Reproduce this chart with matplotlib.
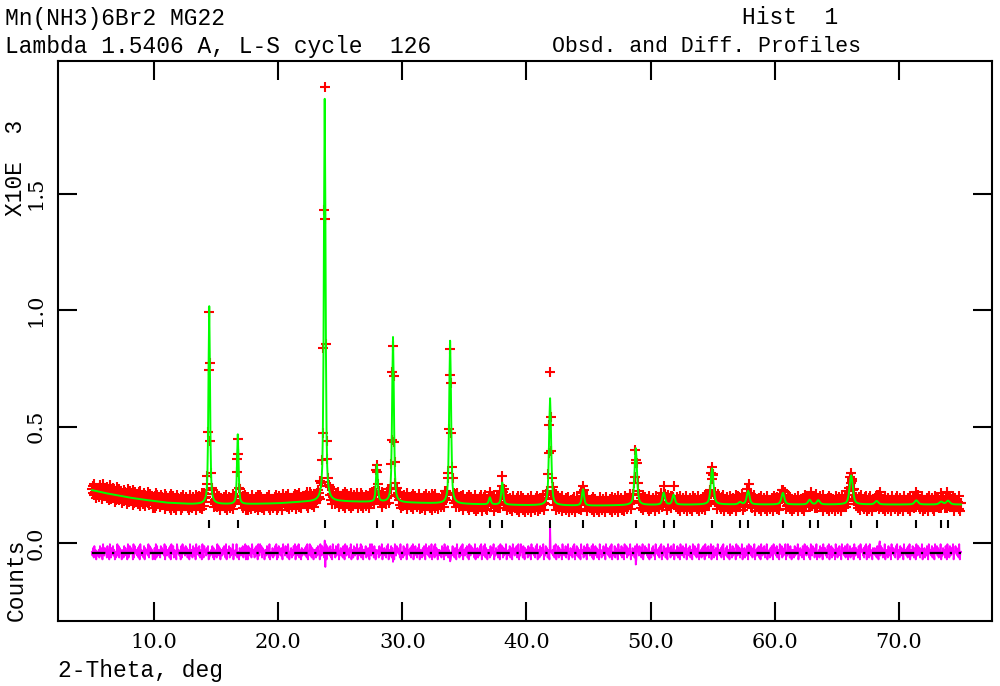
import numpy as np
import matplotlib
matplotlib.use("Agg")
import matplotlib.pyplot as plt

# ---------------- text ----------------
title_left = ["Mn(NH3)6Br2 MG22", "Lambda 1.5406 A, L-S cycle  126"]
title_right = ["Hist  1", "Obsd. and Diff. Profiles"]
x_label = "2-Theta, deg"
y_label_top = "X10E  3"
y_label_bottom = "Counts"
x_ticks = [10, 20, 30, 40, 50, 60, 70]
x_tick_labels = ["10.0", "20.0", "30.0", "40.0", "50.0", "60.0", "70.0"]
y_ticks = [0.0, 0.5, 1.0, 1.5]
y_tick_labels = ["0.0", "0.5", "1.0", "1.5"]

# ---------------- data (counts in units of 1000) ----------------
start_2theta = 5.0
step_2theta = 0.05

# background level read along the pattern
bg_2theta = [5, 6, 7, 8, 9, 10, 11, 13, 17, 20, 22, 25, 28, 31, 34, 37, 40, 45, 50, 55, 75]
bg_counts = [0.227, 0.215, 0.205, 0.195, 0.187, 0.180, 0.173, 0.167, 0.166, 0.170, 0.176,
             0.178, 0.175, 0.172, 0.168, 0.165, 0.162, 0.160, 0.163, 0.165, 0.165]

# peaks read from the calculated (green) profile: position, net height, width
peak_pos = [14.45, 16.75, 23.75, 27.95, 29.25, 33.85, 37.05, 38.05, 41.90, 44.55, 48.80,
            51.05, 51.85, 54.95, 57.20, 57.85, 60.65, 62.80, 63.50, 66.15, 68.20, 71.40,
            73.40, 73.95]
peak_height = [0.85, 0.30, 1.73, 0.16, 0.71, 0.70, 0.03, 0.095, 0.46, 0.07, 0.245,
               0.052, 0.043, 0.155, 0.01, 0.058, 0.05, 0.02, 0.018, 0.125, 0.015, 0.018,
               0.012, 0.016]
peak_fwhm = [0.15, 0.15, 0.16, 0.17, 0.17, 0.18, 0.19, 0.19, 0.20, 0.21, 0.23,
             0.24, 0.24, 0.26, 0.27, 0.27, 0.28, 0.29, 0.29, 0.31, 0.32, 0.33,
             0.34, 0.34]
peak_eta = 0.6

# reflection positions (tick marks)
reflections = [14.45, 16.75, 23.75, 27.95, 29.25, 33.85, 37.05, 38.05, 41.90, 44.55,
               48.80, 51.05, 51.85, 54.95, 57.20, 57.85, 60.65, 62.80, 63.50, 66.15,
               68.20, 71.40, 73.40, 73.95]

# observed - calculated scatter, one digit per step (0..9 -> -/+)
noise_digits = (
    "53728461534628357194375628461952748361524938275614"
    "62837451923847561928546372819463528174653928475613"
    "47192835642857463918536472819548263519746351829475"
    "38472651935628437195473825619428563748195364827153"
    "62948371563748529164582736491546392851743758264918"
    "51837462954627385196395827461563847291534726385917"
    "28463751956384729514572638491548392651735647382915"
    "49382751646273845196385726491854738261954628375914"
    "57362841953846275914628537491647392851645826374195"
    "39472851645628374915473628591463827451963857462915"
    "52837461954637285914385627491564273851945738264915"
    "48293751646352847195374826591458362741954627385916"
    "63748251943857462915572638491448392751646283745915"
    "37462851955827364914463827519653748269153956284174"
    "56283741954736285916628374591438572641955463827914"
    "48273651946358274915374628591458372641954628375196"
    "57364829153847265194625483719547362859145382746195"
    "46382751945827364915374628519663847259144857362915"
    "52748361954637285914385627419557283649144638275196"
    "63852749153748265194583627491546273851943758264915"
    "48263751945637284915473826519462837451963857264914"
    "57263841954836275914637482519537482659145627384195"
    "47382561945826374915394728516462837459144736285195"
    "53847261953857264914462837519657362849154827365194"
    "62738451954738265914582637419537462851965637284915"
    "48293651745736284195385726491564283751944736285916"
    "52837461954637285914638527419538472659145726384196"
    "46382751955837264914374628519562837459144857362915"
    "5"
)
noise_scale = 0.0082

# local misfits seen in the difference curve at strong peaks
misfit_pos = [14.45, 16.75, 23.75, 23.80, 29.25, 33.85, 41.90, 48.80, 68.45]
misfit_val = [-0.060, -0.048, 0.040, -0.057, -0.035, -0.074, 0.076, -0.055, 0.045]

diff_offset = -0.042
tick_bottom, tick_top = 0.064, 0.099

# ---------------- build profiles ----------------
n_pts = len(noise_digits)
tt = start_2theta + step_2theta * np.arange(n_pts)
bg = np.interp(tt, bg_2theta, bg_counts)
calc = bg.copy()
for p, h, w in zip(peak_pos, peak_height, peak_fwhm):
    hw = w / 2.0
    lor = 1.0 / (1.0 + ((tt - p) / hw) ** 2)
    gau = np.exp(-np.log(2) * ((tt - p) / hw) ** 2)
    calc += h * (peak_eta * lor + (1 - peak_eta) * gau)

noise = (np.array([int(c) for c in noise_digits]) - 4.5) * noise_scale
obs = calc + noise
for p, v in zip(misfit_pos, misfit_val):
    obs[np.argmin(np.abs(tt - p))] += v
diff = obs - calc

# ---------------- plot ----------------
fig = plt.figure(figsize=(10, 6.86), dpi=100)
ax = fig.add_axes([0.058, 0.0948, 0.934, 0.816])

tick_font = "DejaVu Serif"
text_font = "Liberation Mono"

ax.plot(tt, obs, linestyle="none", marker="+", color="#ff0000", ms=6.5, mew=1.5, zorder=2)
ax.plot(tt, calc, color="#00ff00", lw=1.4, zorder=3)
ax.vlines(reflections, tick_bottom, tick_top, color="black", lw=1.5, zorder=3)
ax.plot(tt, diff + diff_offset, color="#ff00ff", lw=1.3, zorder=2)
ax.plot([tt[0], tt[-1]], [diff_offset, diff_offset], color="black", lw=1.6,
        dashes=(6, 3, 1, 3), zorder=4)

ax.set_xlim(2.27, 77.49)
ax.set_ylim(-0.335, 2.069)
ax.set_xticks(x_ticks)
ax.set_xticklabels(x_tick_labels, fontfamily=tick_font, fontsize=15)
ax.set_yticks(y_ticks)
ax.set_yticklabels(y_tick_labels, fontfamily=tick_font, fontsize=15, rotation=90, va="center")
ax.tick_params(direction="in", length=14, width=1.5, top=True, right=True, pad=9)
for s in ax.spines.values():
    s.set_linewidth(1.5)

fs = 16.5
fig.text(0.005, 1 - 18 / 686, title_left[0], fontfamily=text_font, fontsize=fs, ha="left", va="center")
fig.text(0.005, 1 - 46 / 686, title_left[1], fontfamily=text_font, fontsize=fs, ha="left", va="center")
fig.text(0.790, 1 - 18 / 686, title_right[0], fontfamily=text_font, fontsize=fs, ha="center", va="center")
fig.text(0.706, 1 - 46 / 686, title_right[1], fontfamily=text_font, fontsize=15.5, ha="center", va="center")
fig.text(0.058, 1 - 670 / 686, x_label, fontfamily=text_font, fontsize=fs, ha="left", va="center")
fig.text(0.016, 1 - 168 / 686, y_label_top, fontfamily=text_font, fontsize=fs, ha="center",
         va="center", rotation=90)
fig.text(0.016, 1 - 580 / 686, y_label_bottom, fontfamily=text_font, fontsize=fs, ha="center",
         va="center", rotation=90)

fig.savefig("out.png", dpi=100)
